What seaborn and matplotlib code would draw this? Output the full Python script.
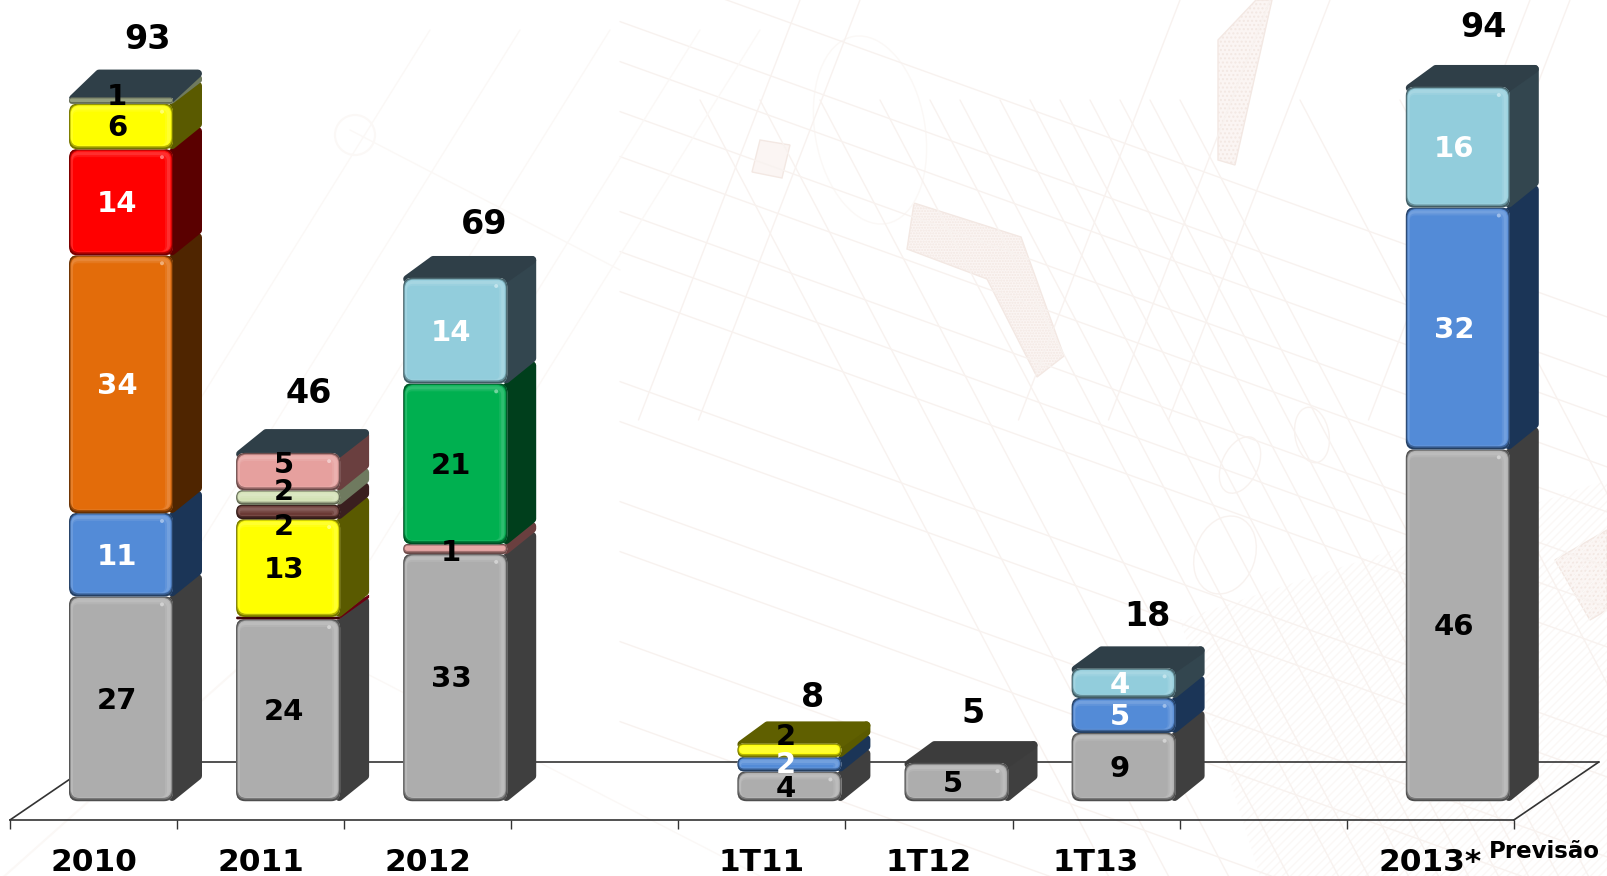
import numpy as np
import matplotlib
matplotlib.use("Agg")
import matplotlib.pyplot as plt
import seaborn as sns
from matplotlib.colors import to_rgb
from matplotlib.patches import Circle, Ellipse, FancyBboxPatch, Polygon
from matplotlib.transforms import IdentityTransform

# -------------------- DATA --------------------
categories = ["2010", "2011", "2012", " ", "1T11", "1T12", "1T13", "  ", "2013"]
tick_labels = ["2010", "2011", "2012", "", "1T11", "1T12", "1T13", "", "2013*"]
bar_cats = ["2010", "2011", "2012", "1T11", "1T12", "1T13", "2013"]
totals = [93, 46, 69, 8, 5, 18, 94]

values_2010 = [27, 11, 34, 14, 6, 0.8]
values_2011 = [24, 0.3, 12.9, 1.9, 1.9, 4.9]
values_2012 = [32.6, 1.3, 21.2, 13.9]
values_1t11 = [3.9, 1.9, 1.8]
values_1t12 = [5]
values_1t13 = [9, 4.6, 3.9]
values_2013 = [46.4, 31.9, 15.9]
seg_values = [values_2010, values_2011, values_2012, values_1t11, values_1t12, values_1t13, values_2013]

names_2010 = ["gray", "blue", "orange", "red", "yellow", "sage"]
names_2011 = ["gray", "maroon", "yellow", "brown", "sage", "pink"]
names_2012 = ["gray", "pink", "green", "sky"]
names_1t11 = ["gray", "blue", "yellow"]
names_1t12 = ["gray"]
names_1t13 = ["gray", "blue", "sky"]
names_2013 = ["gray", "blue", "sky"]
seg_names = [names_2010, names_2011, names_2012, names_1t11, names_1t12, names_1t13, names_2013]

# -------------------- STYLE --------------------
FRONT = {"gray": "#adadad", "blue": "#538bd7", "orange": "#e36c0a", "red": "#ff0000",
         "yellow": "#ffff00", "sage": "#d3e2b5", "maroon": "#8c0010", "brown": "#6b3a35",
         "pink": "#e6a09e", "green": "#00b050", "sky": "#92cddc"}
SIDE = {"gray": "#3f3f3f", "blue": "#1b3557", "orange": "#4f2500", "red": "#5a0000",
        "yellow": "#5a5a00", "sage": "#6f7a5f", "maroon": "#6a0010", "brown": "#3a1f1f",
        "pink": "#6a3f3f", "green": "#003f1c", "sky": "#33464f"}
TOP = ["#2f3f48", "#2f3f48", "#2f3f48", "#5f5f00", "#3c3c3c", "#2f3f48", "#2f3f48"]
WHITE_TEXT = {"blue", "orange", "red", "sky"}

LINE = "#333333"
BLUEPRINT = "#f8f2ef"
BLUEPRINT_SOFT = "#fbf8f6"
BLUEPRINT_EDGE = "#f3e8e3"
BLUEPRINT_FILL = "#fbf5f3"

# pixel layout of the picture
W, H = 1607, 876
X0, SLOT = 121, 167.1     # first bar centre, category spacing
Y0, PX = 801, 7.58        # baseline, pixels per unit
BAR_W = 104 / SLOT
DX, DY = 29, 22           # depth of the 3d faces
SHIFT = 27.5 / SLOT       # bars stand this far behind the tick slots
FLOOR_FRONT, FLOOR_BACK = (Y0 - 820) / PX, (Y0 - 762) / PX

TOTAL_DX = [26, 21, 29, 23, 17, 24, 26]
TOTAL_LIFT = [58, 60, 53, 46, 50, 52, 59]
TOP_EXTRA = [6, 2, 0, 0, 0, 0, 0]
# labels that sit away from the middle of their block (bar, segment): px down
NUDGE = {(0, 5): -4, (1, 3): 15, (1, 4): -5, (1, 5): -7, (2, 1): 4,
         (3, 0): 3, (3, 1): 1, (3, 2): -13}


def mix(color, other, amount):
    a, b = np.array(to_rgb(color)), np.array(to_rgb(other))
    return tuple(a * (1 - amount) + b * amount)


sns.set_style("white")
plt.rcParams["font.family"] = ["DejaVu Sans"]
plt.rcParams["font.weight"] = "bold"

fig = plt.figure(figsize=(W / 100, H / 100), dpi=100, facecolor="white")

# -------------------- BLUEPRINT BACKGROUND --------------------
bg = fig.add_axes([0, 0, 1, 1], zorder=0)
bg.set_xlim(0, W)
bg.set_ylim(H, 0)
bg.axis("off")

for y0 in [-120, -60, -20, 30, 75, 130, 170, 210, 300, 340, 420, 470, 560, 640]:
    xs = np.array([620, W])
    bg.plot(xs, y0 + 0.36 * (xs - 560) + 60, color=BLUEPRINT, lw=1)
for x0 in [700, 760, 820, 880, 930, 960, 1000, 1030, 1060, 1090, 1120, 1150, 1180, 1300, 1400]:
    ys = np.array([100, H])
    bg.plot(x0 + (ys - 100) / 1.9, ys, color=BLUEPRINT, lw=1)
for x0 in [800, 860, 1180, 1270, 1330, 1530, 1570]:
    ys = np.array([0, 420])
    bg.plot(x0 - ys / 2.6, ys, color=BLUEPRINT, lw=1)
for x0 in [430, 520, 610, 700, 760]:
    bg.plot([x0, x0 - 330], [30, 560], color=BLUEPRINT_SOFT, lw=1)
bg.plot([350, 620], [130, 270], color=BLUEPRINT_SOFT, lw=1)
bg.plot([0, 360], [880, 560], color=BLUEPRINT_SOFT, lw=1.5)
bg.plot([340, 760], [660, 876], color=BLUEPRINT_SOFT, lw=1)

bg.add_patch(Polygon([(914, 203), (1021, 237), (1064, 356), (1037, 377), (987, 279), (907, 249)],
                     fc=BLUEPRINT_FILL, ec=BLUEPRINT_EDGE, hatch="......", lw=1))
bg.add_patch(Polygon([(1218, 40), (1256, 0), (1272, 0), (1235, 165), (1218, 160)],
                     fc=BLUEPRINT_FILL, ec=BLUEPRINT_EDGE, hatch="....", lw=1))
bg.add_patch(Polygon([(760, 140), (790, 145), (782, 178), (752, 172)], fc=BLUEPRINT_FILL, ec=BLUEPRINT_EDGE, lw=1))
bg.add_patch(Polygon([(1555, 560), (1607, 530), (1607, 610), (1590, 620)], fc=BLUEPRINT_FILL, ec=BLUEPRINT_EDGE,
                     hatch="....", lw=1))
bg.add_patch(Polygon([(1180, 620), (1607, 480), (1607, 876), (1260, 876)], fc="none", ec=BLUEPRINT_SOFT,
                     hatch="////", lw=0))
bg.add_patch(Circle((355, 135), 20, fc="none", ec=BLUEPRINT_SOFT, lw=1.5))
bg.add_patch(Ellipse((1240, 465), 36, 60, angle=25, fc="none", ec=BLUEPRINT, lw=1))
bg.add_patch(Ellipse((1312, 435), 34, 56, angle=-10, fc="none", ec=BLUEPRINT, lw=1))
bg.add_patch(Ellipse((1225, 555), 60, 80, angle=20, fc="none", ec=BLUEPRINT, lw=1))
bg.add_patch(Ellipse((870, 130), 110, 190, angle=-10, fc="none", ec=BLUEPRINT_SOFT, lw=1))

bg.text(1489, 851, "Previsão", fontsize=16.5, va="center", ha="left", color="black")

# -------------------- BARS --------------------
ax = fig.add_axes([0, 0, 1, 1], zorder=1)
ax.patch.set_alpha(0)

rects = []
for bar_i, cat in enumerate(bar_cats):
    bottom = 0
    for seg_i, (v, name) in enumerate(zip(seg_values[bar_i], seg_names[bar_i])):
        sns.barplot(x=[cat], y=[v], order=categories, bottom=bottom, color=FRONT[name],
                    saturation=1, width=BAR_W, errorbar=None, ax=ax)
        rects.append((bar_i, seg_i, ax.patches[-1], v, bottom, name))
        bottom += v

ax.set_xlim(-X0 / SLOT, (W - X0) / SLOT)
ax.set_ylim((Y0 - H) / PX, Y0 / PX)
ax.set_xlabel("")
ax.set_ylabel("")
ax.set_yticks([])


def add_round(x0, y0, x1, y1, color, z, radius=9):
    r = max(min(radius, (y1 - y0) / 2, (x1 - x0) / 2), 0.1)
    box = FancyBboxPatch((x0, y0), x1 - x0, y1 - y0, boxstyle=f"round,pad=0,rounding_size={r}",
                         fc=color, ec="none", transform=IdentityTransform(), zorder=z, clip_on=False)
    ax.add_patch(box)
    return box


def add_face(points, color, inset, z):
    ax.add_patch(Polygon(points, closed=True, fc=color, ec=color, lw=inset * 2 * 0.72, joinstyle="round",
                         transform=IdentityTransform(), zorder=z, clip_on=False))


z = 5
for bar_i, seg_i, rect, v, bottom, name in rects:
    (x0, y0), (x1, y1) = ax.transData.transform([(rect.get_x(), bottom), (rect.get_x() + rect.get_width(), bottom + v)])
    h = y1 - y0
    color = FRONT[name]

    # side face, its corners rounded by the thick joined edge
    inset = max(min(4, h / 2 - 0.6), 0.4)
    add_face([(x1 - 1, y0 + inset), (x1 + DX - inset, y0 + DY + inset - 1),
              (x1 + DX - inset, y1 + DY - inset), (x1 - 1, y1 - inset)], SIDE[name], inset, z)

    # top face only on the last block of a stack
    if seg_i == len(seg_values[bar_i]) - 1:
        extra = TOP_EXTRA[bar_i]
        add_face([(x0 + 4, y1 - 1), (x0 + DX + 1, y1 + DY + extra - 4),
                  (x1 + DX - 4, y1 + DY + extra - 4), (x1 - 2, y1 - 1)], TOP[bar_i], 4, z + 1)

    # front: seaborn's bar cut to the rounded outline, then the soft bevel layers
    edge = add_round(x0, y0 - 0.2, x1, y1 + 0.2, mix(color, "black", 0.55), z + 2)
    rect.set_clip_path(edge)
    rect.set_zorder(z + 2)
    if h > 5:
        add_round(x0 + 0.8, y0 + 1.5, x1 - 0.8, y1 - 0.8, mix(color, "black", 0.3), z + 3)
    if h > 8:
        add_round(x0 + 1.6, y0 + 3, x1 - 1.6, y1 - 1.6, mix(color, "white", 0.08), z + 4)
    if h > 12:
        add_round(x0 + 2.5, y0 + 4, x1 - 3, y1 - 3, mix(color, "white", 0.18), z + 5, radius=7)
    if h > 14:
        add_round(x0 + 3.5, y0 + 4, x1 - 6, y1 - 6, mix(color, "white", 0.08), z + 6, radius=6)
        add_round(x0 + 4, y0 + 4, x1 - 8, y1 - 8, color, z + 7, radius=5)
    if h > 20:
        ax.add_patch(Circle((x1 - 11, y1 - 8), 2, fc=mix(color, "white", 0.45), ec="none",
                            transform=IdentityTransform(), zorder=z + 8))
    z += 10

# -------------------- TEXT --------------------
for bar_i, seg_i, rect, v, bottom, name in rects:
    text = f"{v:.0f}"
    if text == "0":
        continue
    cx = rect.get_x() + rect.get_width() / 2 - 4 / SLOT
    cy = bottom + v / 2 - NUDGE.get((bar_i, seg_i), 2) / PX
    ax.text(cx, cy, text, fontsize=21, ha="center", va="center", zorder=1000,
            color="white" if name in WHITE_TEXT else "black")

for bar_i, cat in enumerate(bar_cats):
    pos = categories.index(cat)
    ax.text(pos + TOTAL_DX[bar_i] / SLOT, sum(seg_values[bar_i]) + TOTAL_LIFT[bar_i] / PX, str(totals[bar_i]),
            fontsize=24, ha="center", va="center", color="black", zorder=1000)

# -------------------- FLOOR AND AXIS --------------------
edges = np.arange(len(categories) + 1) - 0.5 - SHIFT
slope = 85 / SLOT
ax.plot([edges[0], edges[0] + slope], [FLOOR_FRONT, FLOOR_BACK], color=LINE, lw=1.2, zorder=1)
ax.plot([edges[-1], edges[-1] + slope], [FLOOR_FRONT, FLOOR_BACK], color=LINE, lw=1.2, zorder=1)
ax.plot([edges[0] + slope, edges[-1] + slope], [FLOOR_BACK, FLOOR_BACK], color=LINE, lw=1.2, zorder=1)

sns.despine(ax=ax, left=True, top=True, right=True)
ax.spines["bottom"].set_position(("data", FLOOR_FRONT))
ax.spines["bottom"].set_bounds(edges[0], edges[-1])
ax.spines["bottom"].set_color(LINE)
ax.spines["bottom"].set_linewidth(1.2)
ax.set_xticks(edges, labels=[""] * len(edges))
ax.set_xticks(np.arange(len(categories)) - SHIFT, labels=tick_labels, minor=True)
ax.tick_params(axis="x", which="major", length=6.5, width=1, color=LINE, direction="out", bottom=True)
ax.tick_params(axis="x", which="minor", length=0, pad=20, labelsize=22.5, labelcolor="black", bottom=True)

fig.savefig("out.png", dpi=100, facecolor="white")
